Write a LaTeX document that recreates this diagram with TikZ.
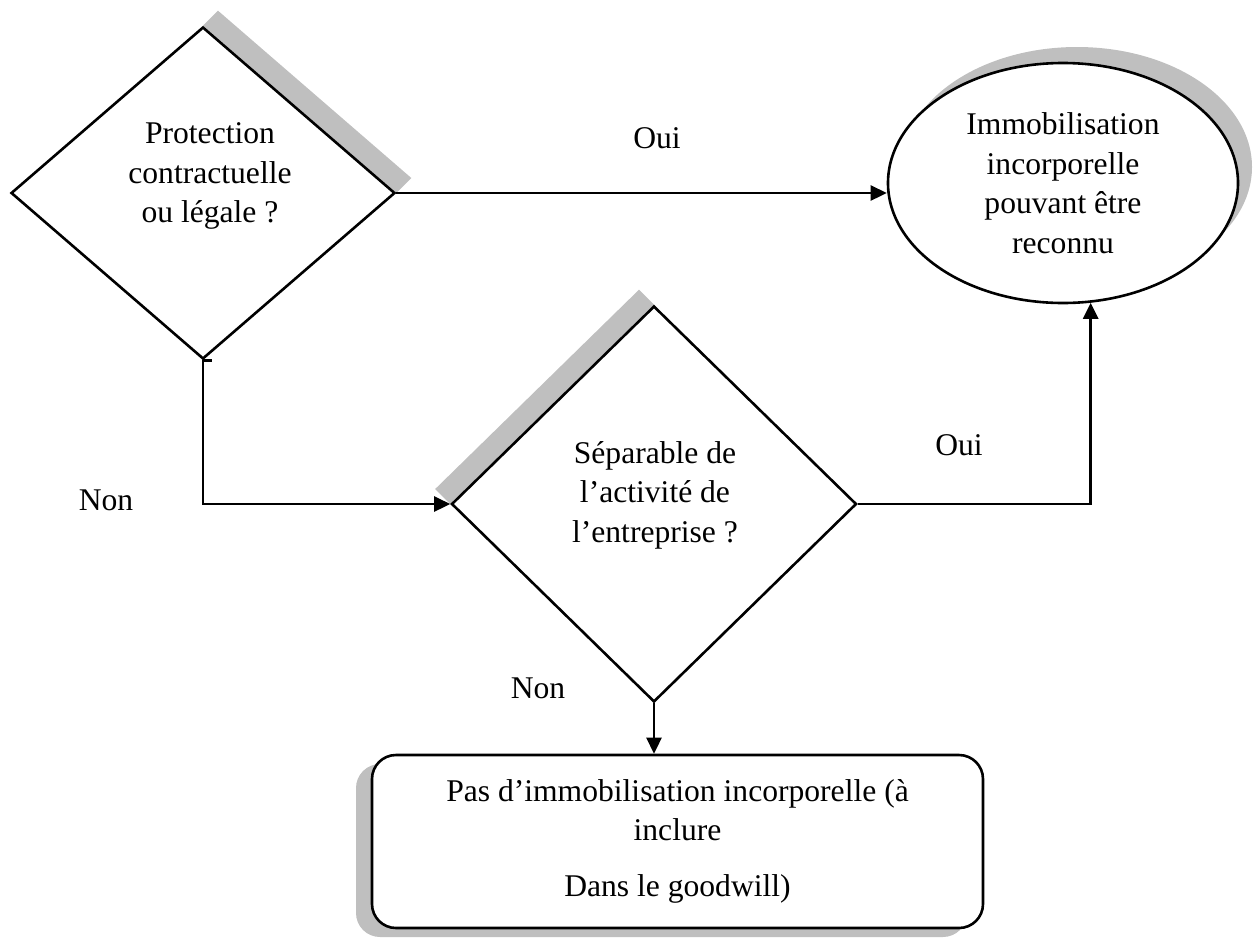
\documentclass[tikz,border=0pt]{standalone}
\usepackage{fontspec}
\setmainfont{Liberation Serif}
\usetikzlibrary{shapes.geometric,arrows.meta,calc,shadows,backgrounds}
\definecolor{shadowgray}{RGB}{191,191,191}
\tikzset{
  every node/.style={font=\fontsize{31.6}{39.5}\selectfont},
  shape line/.style={draw=black, line width=2.6pt, fill=white},
  diam/.style={shape line, diamond, inner sep=0pt},
  txt/.style={align=center, inner sep=0pt},
  lbl/.style={inner sep=0pt},
  conn/.style={draw=black, line width=2.6pt, -{Triangle[length=16pt,width=15pt]}},
  shadowband/.style={fill=shadowgray}
}
\begin{document}
\begin{tikzpicture}[x=1pt,y=-1pt]
\useasboundingbox (0,0) rectangle (1254,938);

% diamond 1
\node[diam, minimum width=384pt, minimum height=332pt] (d1) at (203,193) {};
\node[txt] (t1) at (210,176) {Protection\\contractuelle\\ou légale ?};

% diamond 2
\node[diam, minimum width=405pt, minimum height=396pt] (d2) at (654,504) {};
\node[txt] (t2) at (655,495) {Séparable de\\l’activité de\\l’entreprise ?};

% ellipse
\node[shape line, ellipse, minimum width=350pt, minimum height=240pt, inner sep=0pt, align=center,
      general shadow={shadow xshift=14pt, shadow yshift=16pt, fill=shadowgray}] (el) at (1063,183)
      {Immobilisation\\incorporelle\\pouvant être\\reconnu};

% rounded rectangle
\node[shape line, rectangle, rounded corners=24pt, minimum width=611pt, minimum height=173pt, inner sep=0pt, align=center,
      font=\fontsize{31.6}{38.5}\selectfont,
      general shadow={shadow xshift=-16pt, shadow yshift=-9pt, fill=shadowgray}] (rb) at (677.5,841.5)
      {Pas d’immobilisation incorporelle (à\\inclure\\[18pt]Dans le goodwill)};

% diamond shadows
\begin{pgfonlayer}{background}
\fill[shadowband] (d1.north) -- ($(d1.north)+(15,-15)$) -- ($(d1.east)+(15,-15)$) -- (d1.east) -- cycle;
\fill[shadowband] (d2.west) -- ($(d2.west)+(-15,-15)$) -- ($(d2.north)+(-15,-15)$) -- (d2.north) -- cycle;
\end{pgfonlayer}

% labels
\node[lbl] (oui1) at (657,138) {Oui};
\node[lbl] (oui2) at (959,445) {Oui};
\node[lbl] (non1) at (106,500) {Non};
\node[lbl] (non2) at (538,688) {Non};

% connectors
\draw[conn] (d1.east) -- (d1.east -| el.west);
\draw[line width=2.6pt] (d1.south) -- ++(9,0);
\draw[conn] (d1.south) |- (d2.west);
\draw[conn] (d2.east) -| (el.-77.2);
\draw[conn] (d2.south) -- (d2.south |- rb.north);
\end{tikzpicture}
\end{document}
